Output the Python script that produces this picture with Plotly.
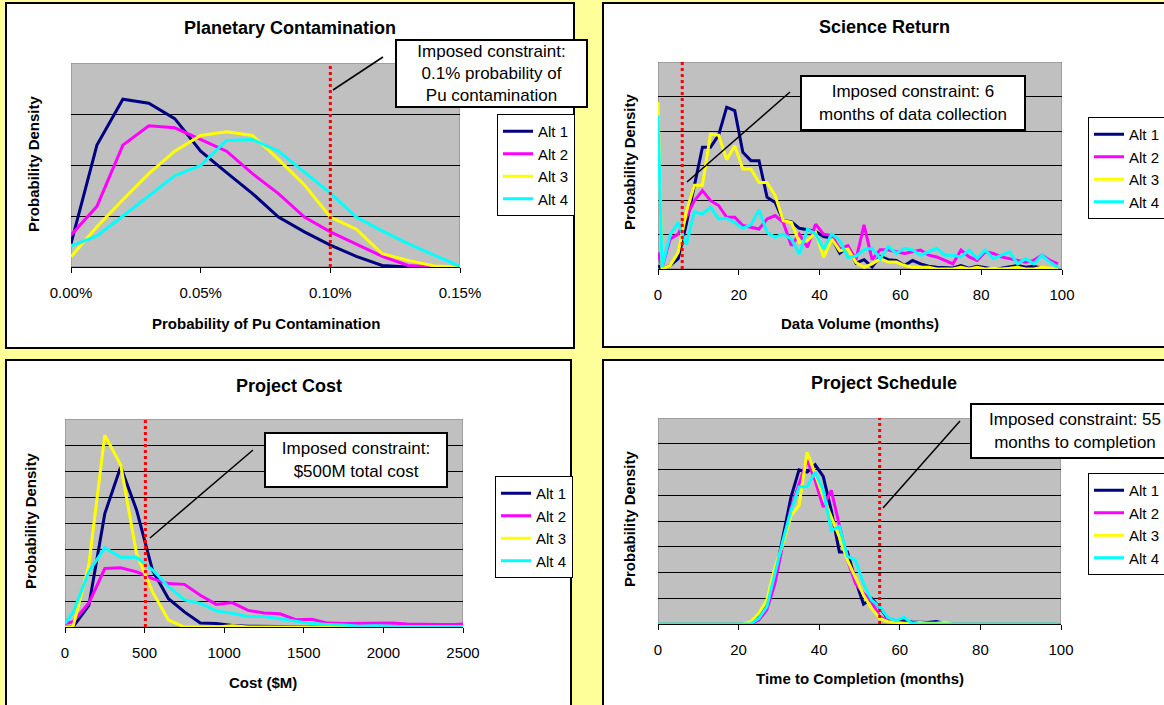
import plotly.graph_objects as go

W, H = 1164, 705
FONT = "Liberation Sans, Arial, sans-serif"

ALT_NAMES = ["Alt 1", "Alt 2", "Alt 3", "Alt 4"]
ALT_COLORS = ["#000080", "#FF00FF", "#FFFF00", "#00FFFF"]

# --- Planetary Contamination (probability of Pu contamination) ---
CONTAM_X = [0.0, 0.0001, 0.0002, 0.0003, 0.0004, 0.0005, 0.0006, 0.0007,
            0.0008, 0.0009, 0.0010, 0.0011, 0.0012, 0.0013, 0.0014, 0.0015]
CONTAM_ALT1 = [0.46, 2.39, 3.29, 3.21, 2.91, 2.27, 1.85, 1.44, 0.98, 0.69, 0.43, 0.21, 0.03, 0.0, 0.0, 0.0]
CONTAM_ALT2 = [0.63, 1.19, 2.39, 2.77, 2.73, 2.50, 2.27, 1.83, 1.44, 0.98, 0.69, 0.45, 0.21, 0.03, 0.0, 0.0]
CONTAM_ALT3 = [0.20, 0.79, 1.32, 1.83, 2.27, 2.58, 2.65, 2.58, 2.11, 1.61, 0.98, 0.74, 0.26, 0.13, 0.02, 0.0]
CONTAM_ALT4 = [0.41, 0.61, 1.00, 1.40, 1.79, 1.99, 2.48, 2.50, 2.27, 1.86, 1.45, 0.98, 0.71, 0.46, 0.23, 0.01]
CONTAM_TICKS = [0.0, 0.0005, 0.0010, 0.0015]

# --- months grid shared by Science Return and Project Schedule ---
MONTHS = [0, 1, 3, 5, 7, 9, 11, 13, 15, 17, 19, 21, 23, 25, 27, 29, 31, 33, 35, 37,
          39, 41, 43, 45, 47, 49, 51, 53, 55, 57, 59, 61, 63, 65, 67, 69, 71, 73, 75,
          77, 79, 81, 83, 85, 87, 89, 91, 93, 95, 97, 99]
MONTH_TICKS = [0, 20, 40, 60, 80, 100]

# --- Science Return (data volume, months) ---
SCI_ALT1 = [0.1, 0.0, 0.1, 0.3, 1.3, 2.46, 3.53, 3.53, 3.88, 4.69, 4.59, 3.38, 3.14, 3.14, 2.08, 1.93, 1.40,
            1.37, 1.18, 1.14, 1.09, 0.94, 0.90, 0.46, 0.65, 0.17, 0.27, 0.06, 0.37, 0.27, 0.25, 0.10, 0.25,
            0.15, 0.08, 0.05, 0.05, 0.03, 0.10, 0.02, 0.08, 0.05, 0.0, 0.02, 0.05, 0.10, 0.05, 0.08, 0.02,
            0.0, 0.0]
SCI_ALT2 = [0.48, 0.05, 0.87, 1.01, 1.50, 1.98, 2.27, 1.98, 1.84, 1.50, 1.50, 1.26, 1.21, 1.16, 1.45, 1.55,
            1.35, 0.68, 1.01, 0.63, 1.30, 1.01, 0.97, 0.58, 0.68, 0.27, 1.28, 0.27, 0.56, 0.56, 0.50, 0.45,
            0.50, 0.55, 0.40, 0.35, 0.25, 0.15, 0.55, 0.35, 0.25, 0.50, 0.45, 0.35, 0.30, 0.25, 0.20, 0.25,
            0.40, 0.25, 0.15]
SCI_ALT3 = [4.85, 0.0, 0.1, 0.48, 1.64, 2.43, 2.43, 3.91, 3.88, 3.17, 3.57, 2.90, 2.90, 2.51, 2.51, 2.13,
            1.40, 1.35, 0.77, 0.82, 1.06, 0.34, 0.87, 0.53, 0.58, 0.19, 0.05, 0.15, 0.30, 0.20, 0.20, 0.10,
            0.05, 0.05, 0.05, 0.0, 0.0, 0.0, 0.05, 0.0, 0.05, 0.0, 0.02, 0.0, 0.02, 0.05, 0.0, 0.0, 0.05,
            0.02, 0.0]
SCI_ALT4 = [4.46, 0.05, 0.99, 1.35, 0.70, 1.66, 1.59, 1.79, 1.45, 1.47, 1.35, 1.18, 1.28, 1.72, 1.06, 0.92,
            1.01, 0.87, 0.43, 1.16, 1.01, 0.58, 1.01, 0.82, 0.34, 0.37, 0.56, 0.60, 0.30, 0.65, 0.45, 0.60,
            0.55, 0.40, 0.50, 0.60, 0.40, 0.40, 0.35, 0.55, 0.30, 0.55, 0.30, 0.40, 0.50, 0.15, 0.30, 0.15,
            0.40, 0.20, 0.05]

# --- Project Cost ($M) ---
COST_X = [0, 50, 150, 250, 350, 450, 550, 650, 750, 850, 950, 1050, 1150, 1250, 1350, 1450, 1550,
          1650, 1750, 1850, 1950, 2050, 2150, 2250, 2350, 2450, 2500]
COST_ALT1 = [0.0, 0.0, 0.83, 4.36, 6.16, 4.49, 2.18, 1.09, 0.58, 0.15, 0.13, 0.06, 0.03, 0.02, 0.01,
             0.0, 0.0, 0.0, 0.0, 0.0, 0.0, 0.0, 0.0, 0.0, 0.0, 0.0, 0.0]
COST_ALT2 = [0.13, 0.20, 0.92, 2.25, 2.28, 2.12, 1.86, 1.67, 1.64, 1.22, 0.87, 0.94, 0.64, 0.54, 0.51,
             0.28, 0.30, 0.15, 0.13, 0.13, 0.13, 0.15, 0.12, 0.10, 0.10, 0.10, 0.12]
COST_ALT3 = [0.0, 0.0, 2.40, 7.38, 6.23, 2.80, 1.35, 0.27, 0.0, 0.0, 0.0, 0.05, 0.0, 0.0, 0.0,
             0.0, 0.0, 0.0, 0.0, 0.0, 0.0, 0.0, 0.0, 0.0, 0.0, 0.0, 0.0]
COST_ALT4 = [0.13, 0.55, 2.13, 3.05, 2.68, 2.68, 2.19, 1.55, 1.04, 0.91, 0.62, 0.53, 0.40, 0.40, 0.32,
             0.22, 0.13, 0.10, 0.08, 0.03, 0.05, 0.03, 0.03, 0.02, 0.02, 0.02, 0.02]
COST_TICKS = [0, 500, 1000, 1500, 2000, 2500]

# --- Project Schedule (time to completion, months) ---
SCHED_ALT1 = [0, 0, 0, 0, 0, 0, 0, 0, 0, 0, 0, 0, 0,
              0.28, 0.67, 1.83, 3.38, 4.93, 5.99, 5.90, 6.18, 5.73, 4.41, 2.80, 2.80, 1.70, 0.77, 0.99,
              0.65, 0.22, 0.13, 0.13, 0.08, 0.08, 0.06, 0.10, 0.03,
              0, 0, 0, 0, 0, 0, 0, 0, 0, 0, 0, 0, 0, 0]
SCHED_ALT2 = [0, 0, 0, 0, 0, 0, 0, 0, 0, 0, 0, 0, 0,
              0.15, 0.55, 1.57, 3.12, 4.50, 5.45, 6.37, 5.57, 4.54, 5.19, 3.77, 2.48, 1.57, 1.19, 0.86,
              0.28, 0.15, 0.05, 0.03, 0, 0, 0, 0, 0,
              0, 0, 0, 0, 0, 0, 0, 0, 0, 0, 0, 0, 0, 0]
SCHED_ALT3 = [0, 0, 0, 0, 0, 0, 0, 0, 0, 0, 0, 0,
              0.09, 0.41, 0.93, 2.20, 3.10, 4.20, 4.61, 6.67, 5.83, 4.93, 4.15, 3.38, 2.48, 1.77, 1.12,
              0.61, 0.22, 0.09, 0.05, 0.03, 0.03, 0.06, 0.03, 0.03, 0.06,
              0, 0, 0, 0, 0, 0, 0, 0, 0, 0, 0, 0, 0, 0]
SCHED_ALT4 = [0, 0, 0, 0, 0, 0, 0, 0, 0, 0, 0, 0, 0,
              0.22, 0.67, 1.96, 3.25, 4.41, 5.32, 5.34, 5.90, 5.19, 3.64, 3.79, 2.63, 2.48, 1.57, 0.93,
              0.67, 0.26, 0.13, 0.26, 0.03, 0, 0, 0, 0,
              0, 0, 0, 0, 0, 0, 0, 0, 0, 0, 0, 0, 0, 0]


def px(x):
    return x / W


def py(y):
    return 1 - y / H


# pixel boxes: panel frame, plot area, legend, note box
PANELS = [
    dict(title="Planetary Contamination", xtitle="Probability of Pu Contamination",
         x=CONTAM_X, ys=[CONTAM_ALT1, CONTAM_ALT2, CONTAM_ALT3, CONTAM_ALT4],
         xrange=[0, 0.0015], ticks=CONTAM_TICKS, tickformat=".2%", ymax=4, limit=0.001,
         frame=(6, 3, 574, 348), plot=(71, 63, 460, 267), legend=(497, 114),
         title_pos=(290, 28), xtitle_pos=(266, 323), ytitle_pos=(33, 164),
         note="Imposed constraint:<br>0.1% probability of<br>Pu contamination",
         note_box=(395, 39, 588, 108), callout=((383, 57), (333, 90))),
    dict(title="Science Return", xtitle="Data Volume (months)",
         x=MONTHS, ys=[SCI_ALT1, SCI_ALT2, SCI_ALT3, SCI_ALT4],
         xrange=[0, 100], ticks=MONTH_TICKS, tickformat="d", ymax=6, limit=6,
         frame=(603, 3, 1175, 347), plot=(658, 62, 1062, 269), legend=(1088, 117),
         title_pos=(884, 27), xtitle_pos=(860, 323), ytitle_pos=(629, 162),
         note="Imposed constraint: 6<br>months of data collection",
         note_box=(800, 75, 1026, 131), callout=((790, 92), (687, 182))),
    dict(title="Project Cost", xtitle="Cost ($M)",
         x=COST_X, ys=[COST_ALT1, COST_ALT2, COST_ALT3, COST_ALT4],
         xrange=[0, 2500], ticks=COST_TICKS, tickformat="d", ymax=8, limit=505,
         frame=(6, 360, 571, 712), plot=(65, 419, 463, 627), legend=(495, 476),
         title_pos=(289, 386), xtitle_pos=(263, 682), ytitle_pos=(30, 521),
         note="Imposed constraint:<br>$500M total cost",
         note_box=(264, 432, 448, 488), callout=((253, 450), (150, 538))),
    dict(title="Project Schedule", xtitle="Time to Completion (months)",
         x=MONTHS, ys=[SCHED_ALT1, SCHED_ALT2, SCHED_ALT3, SCHED_ALT4],
         xrange=[0, 100], ticks=MONTH_TICKS, tickformat="d", ymax=8, limit=55,
         frame=(603, 360, 1175, 712), plot=(658, 418, 1061, 624), legend=(1088, 473),
         title_pos=(884, 383), xtitle_pos=(860, 678), ytitle_pos=(629, 519),
         note="Imposed constraint: 55<br>months to completion",
         note_box=(970, 403, 1180, 459), callout=((960, 421), (883, 508))),
]

fig = go.Figure()
shapes = []
annotations = []
layout = {}

for i, p in enumerate(PANELS, start=1):
    sfx = "" if i == 1 else str(i)
    xa, ya = "x" + sfx, "y" + sfx
    leg = "legend" + sfx

    for name, color, y in zip(ALT_NAMES, ALT_COLORS, p["ys"]):
        fig.add_trace(go.Scatter(
            x=p["x"], y=y, name=name, mode="lines",
            line=dict(color=color, width=3),
            xaxis=xa, yaxis=ya, legend=leg, cliponaxis=False,
        ))

    l, t, r, b = p["plot"]
    layout["xaxis" + sfx] = dict(
        domain=[px(l), px(r)], anchor=ya, range=p["xrange"],
        tickvals=p["ticks"], tickformat=p["tickformat"],
        ticks="outside", ticklen=5, tickwidth=1, tickcolor="black",
        showline=True, linecolor="black", linewidth=1,
        showgrid=False, zeroline=False, layer="below traces",
        tickfont=dict(size=15, color="black"), ticklabelstandoff=7,
        fixedrange=True,
    )
    layout["yaxis" + sfx] = dict(
        domain=[py(b), py(t)], anchor=xa, range=[0, p["ymax"]],
        tickvals=list(range(1, p["ymax"])), showticklabels=False, ticks="",
        showgrid=True, gridcolor="black", gridwidth=1,
        zeroline=False, showline=False, fixedrange=True,
    )

    lx, ly = p["legend"]
    layout[leg] = dict(
        x=px(lx), y=py(ly), xanchor="left", yanchor="top",
        bgcolor="white", bordercolor="black", borderwidth=1,
        font=dict(size=15, color="black"), itemwidth=30,
    )

    # white chart frame
    fl, ft, fr, fb = p["frame"]
    shapes.append(dict(type="rect", xref="paper", yref="paper",
                       x0=px(fl), x1=px(fr), y0=py(fb), y1=py(ft),
                       fillcolor="white", line=dict(color="black", width=2),
                       layer="below"))
    # grey plot area
    shapes.append(dict(type="rect", xref=xa, yref=ya,
                       x0=p["xrange"][0], x1=p["xrange"][1], y0=0, y1=p["ymax"],
                       fillcolor="#C0C0C0", line=dict(color="#808080", width=1),
                       layer="below"))
    # constraint line
    shapes.append(dict(type="line", xref=xa, yref=ya,
                       x0=p["limit"], x1=p["limit"], y0=0, y1=p["ymax"],
                       line=dict(color="#FF0000", width=3, dash="dot"),
                       layer="above"))
    # callout
    (cx0, cy0), (cx1, cy1) = p["callout"]
    shapes.append(dict(type="line", xref="paper", yref="paper",
                       x0=px(cx0), y0=py(cy0), x1=px(cx1), y1=py(cy1),
                       line=dict(color="black", width=1.5), layer="above"))

    tx, ty = p["title_pos"]
    annotations.append(dict(text=p["title"], x=px(tx), y=py(ty), xref="paper", yref="paper",
                            showarrow=False, xanchor="center", yanchor="middle",
                            font=dict(size=18, weight="bold", color="black")))
    tx, ty = p["xtitle_pos"]
    annotations.append(dict(text=p["xtitle"], x=px(tx), y=py(ty), xref="paper", yref="paper",
                            showarrow=False, xanchor="center", yanchor="middle",
                            font=dict(size=15, weight="bold", color="black")))
    tx, ty = p["ytitle_pos"]
    annotations.append(dict(text="Probability Density", x=px(tx), y=py(ty),
                            xref="paper", yref="paper", textangle=-90,
                            showarrow=False, xanchor="center", yanchor="middle",
                            font=dict(size=15, weight="bold", color="black")))

    nl, nt, nr, nb = p["note_box"]
    annotations.append(dict(text=p["note"], x=px((nl + nr) / 2), y=py((nt + nb) / 2),
                            xref="paper", yref="paper", showarrow=False,
                            xanchor="center", yanchor="middle", align="center",
                            width=nr - nl - 4, height=nb - nt - 4,
                            bgcolor="white", bordercolor="black", borderwidth=2, borderpad=0,
                            font=dict(size=17, color="black")))

fig.update_layout(
    width=W, height=H,
    margin=dict(l=0, r=0, t=0, b=0, autoexpand=False),
    paper_bgcolor="#FFFF99", plot_bgcolor="rgba(0,0,0,0)",
    font=dict(family=FONT, color="black"),
    shapes=shapes, annotations=annotations,
    **layout,
)

# drop the page's default body margin so the figure sits at the window's corner
fig.write_html("out.html", config={"displayModeBar": False},
               post_script="document.body.style.margin = '0px';")
